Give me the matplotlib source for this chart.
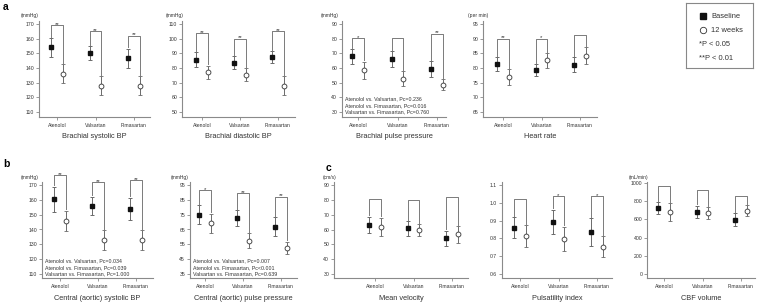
import matplotlib
matplotlib.use('Agg')
import matplotlib.pyplot as plt
import numpy as np

plt.rcParams['font.family'] = ['Liberation Sans', 'DejaVu Sans']

W, H = 760, 306

drugs = ['Atenolol', 'Valsartan', 'Fimasartan']

# a: brachial systolic BP (mmHg)
bsbp_base = [154.0, 150.2, 146.7]
bsbp_base_err = [6.5, 4.8, 6.5]
bsbp_wk12 = [136.0, 128.0, 128.0]
bsbp_wk12_err = [6.5, 6.5, 6.5]
bsbp_stars = ['**', '**', '**']
bsbp_top = [169.0, 165.2, 162.0]

# a: brachial diastolic BP (mmHg)
bdbp_base = [85.6, 83.5, 87.4]
bdbp_base_err = [5.0, 4.4, 4.0]
bdbp_wk12 = [77.1, 75.5, 68.0]
bdbp_wk12_err = [4.5, 4.2, 6.3]
bdbp_stars = ['**', '**', '**']
bdbp_top = [103.8, 100.0, 105.0]

# a: brachial pulse pressure (mmHg)
bpp_base = [67.9, 66.0, 59.4]
bpp_base_err = [5.0, 5.3, 5.3]
bpp_wk12 = [58.5, 52.6, 48.7]
bpp_wk12_err = [5.8, 5.2, 3.9]
bpp_stars = ['*', '', '**']
bpp_top = [80.4, 80.4, 83.4]
bpp_notes = ['Atenolol vs. Valsartan, Pc=0.236',
             'Atenolol vs. Fimasartan, Pc=0.016',
             'Valsartan vs. Fimasartan, Pc=0.760']

# a: heart rate (per min)
hr_base = [81.4, 79.3, 81.1]
hr_base_err = [2.3, 1.9, 2.5]
hr_wk12 = [76.9, 82.6, 84.2]
hr_wk12_err = [2.6, 2.5, 3.0]
hr_stars = ['**', '*', '']
hr_top = [90.0, 90.0, 91.3]

# b: central (aortic) systolic BP (mmHg)
csbp_base = [160.3, 155.8, 153.8]
csbp_base_err = [8.6, 6.3, 7.6]
csbp_wk12 = [145.7, 132.8, 132.8]
csbp_wk12_err = [7.0, 6.7, 6.7]
csbp_stars = ['**', '**', '**']
csbp_top = [176.7, 171.8, 173.4]
csbp_notes = ['Atenolol vs. Valsartan, Pc=0.034',
              'Atenolol vs. Fimasartan, Pc=0.039',
              'Valsartan vs. Fimasartan, Pc=1.000']

# b: central (aortic) pulse pressure (mmHg)
cpp_base = [74.8, 72.5, 66.7]
cpp_base_err = [6.4, 5.4, 6.4]
cpp_wk12 = [69.2, 57.5, 52.8]
cpp_wk12_err = [6.4, 5.0, 4.0]
cpp_stars = ['*', '**', '**']
cpp_top = [91.6, 89.4, 87.1]
cpp_notes = ['Atenolol vs. Valsartan, Pc=0.007',
             'Atenolol vs. Fimasartan, Pc<0.001',
             'Valsartan vs. Fimasartan, Pc=0.639']

# c: mean velocity (cm/s)
mv_base = [63.0, 60.8, 54.0]
mv_base_err = [5.6, 4.9, 5.3]
mv_wk12 = [61.9, 59.7, 56.7]
mv_wk12_err = [6.0, 3.9, 5.6]
mv_stars = ['', '', '']
mv_top = [80.3, 79.9, 82.0]

# c: pulsatility index
pi_base = [0.860, 0.894, 0.836]
pi_base_err = [0.060, 0.068, 0.076]
pi_wk12 = [0.813, 0.797, 0.754]
pi_wk12_err = [0.062, 0.069, 0.058]
pi_stars = ['', '*', '*']
pi_top = [1.020, 1.038, 1.038]

# c: CBF volume (mL/min)
cbf_base = [722, 685, 596]
cbf_base_err = [65, 67, 74]
cbf_wk12 = [678, 670, 696]
cbf_wk12_err = [100, 67, 60]
cbf_stars = ['', '', '']
cbf_top = [963, 926, 859]

GRAY = '#8a8a8a'
TXT = '#333333'

fig = plt.figure(figsize=(W / 100, H / 100), dpi=100)


def fx(x):
    return x / W


def fy(y):
    return 1 - y / H


def draw_panel(rect, yt, tick_px, xt, base, base_err, wk, wk_err, stars, tops,
               title, unit=None, unit_x=None, notes=None, fmt='{:.0f}'):
    L, T, R, B = rect
    ax = fig.add_axes([fx(L), fy(B), (R - L) / W, (B - T) / H])
    lo, hi = yt[0], yt[-1]
    p_hi, p_lo = tick_px
    sc = (p_lo - p_hi) / (hi - lo)  # pixels per data unit
    ax.set_ylim(lo - (B - p_lo) / sc, hi + (p_hi - T) / sc)
    a, c = xt
    s = (c - a) / 2
    ax.set_xlim(-(a - L) / s, 2 + (R - c) / s)

    for sp in ['top', 'right']:
        ax.spines[sp].set_visible(False)
    for sp in ['left', 'bottom']:
        ax.spines[sp].set_color(GRAY)
        ax.spines[sp].set_linewidth(0.8)
    ax.set_yticks(yt)
    ax.set_yticklabels([fmt.format(v) for v in yt])
    ax.set_xticks(range(3))
    ax.set_xticklabels(drugs)
    ax.tick_params(length=2, width=0.6, color=GRAY, labelsize=3.7,
                   labelcolor=TXT, pad=1.5)
    ax.tick_params(axis='x', pad=2.5)

    x = np.arange(3)
    d = 0.15
    ax.errorbar(x - d, base, yerr=base_err, fmt='s', ms=3.1, mfc='#111111',
                mec='#111111', ecolor='#6a6a6a', elinewidth=0.7, capsize=1.6,
                capthick=0.7, clip_on=False, zorder=3)
    ax.errorbar(x + d, wk, yerr=wk_err, fmt='o', ms=3.5, mfc='white',
                mec='#333333', mew=0.6, ecolor='#6a6a6a', elinewidth=0.7,
                capsize=1.6, capthick=0.7, clip_on=False, zorder=3)

    # significance brackets
    gap = 1.3 / sc
    for i in range(3):
        y0 = base[i] + base_err[i] + gap
        y1 = wk[i] + wk_err[i] + gap
        ax.plot([i - d, i - d, i + d, i + d], [y0, tops[i], tops[i], y1],
                color='#7a7a7a', lw=0.7, clip_on=False)
        if stars[i]:
            ax.text(i, tops[i] - 0.6 / sc, stars[i], ha='center',
                    va='baseline', fontsize=4.3, color=TXT)

    if notes:
        ys = [p_lo - 13, p_lo - 6.5, p_lo]
        for k, t in enumerate(notes):
            fig.text(fx(L + 3), fy(ys[k]), t, fontsize=3.8, color=TXT,
                     ha='left', va='center')

    fig.text(fx((L + R) / 2), fy(B + 20), title, fontsize=5.3, color=TXT,
             ha='center', va='center')
    if unit:
        fig.text(fx(unit_x), fy(T - 5), unit, fontsize=3.6, color=TXT,
                 ha='center', va='center')
    return ax


row_a = (24, 112)
row_b = (185, 274)

draw_panel((39, 21, 150, 117), np.arange(110, 171, 10), row_a, (57, 134),
           bsbp_base, bsbp_base_err, bsbp_wk12, bsbp_wk12_err, bsbp_stars,
           bsbp_top, 'Brachial systolic BP', '(mmHg)', 30)
draw_panel((182, 21, 295, 117), np.arange(50, 111, 10), row_a, (202, 278),
           bdbp_base, bdbp_base_err, bdbp_wk12, bdbp_wk12_err, bdbp_stars,
           bdbp_top, 'Brachial diastolic BP', '(mmHg)', 175)
draw_panel((342, 21, 446, 117), np.arange(30, 91, 10), row_a, (358, 437),
           bpp_base, bpp_base_err, bpp_wk12, bpp_wk12_err, bpp_stars,
           bpp_top, 'Brachial pulse pressure', '(mmHg)', 330, bpp_notes)
draw_panel((483, 21, 597, 117), np.arange(65, 96, 5), row_a, (503, 580),
           hr_base, hr_base_err, hr_wk12, hr_wk12_err, hr_stars,
           hr_top, 'Heart rate', '(per min)', 478)

draw_panel((42, 182, 153, 278), np.arange(110, 171, 10), row_b, (60, 136),
           csbp_base, csbp_base_err, csbp_wk12, csbp_wk12_err, csbp_stars,
           csbp_top, 'Central (aortic) systolic BP', '(mmHg)', 30, csbp_notes)
draw_panel((190, 182, 297, 278), np.arange(35, 96, 10), row_b, (205, 281),
           cpp_base, cpp_base_err, cpp_wk12, cpp_wk12_err, cpp_stars,
           cpp_top, 'Central (aortic) pulse pressure', '(mmHg)', 180, cpp_notes)
draw_panel((334, 182, 468, 278), np.arange(30, 91, 10), row_b, (375, 452),
           mv_base, mv_base_err, mv_wk12, mv_wk12_err, mv_stars,
           mv_top, 'Mean velocity', '(cm/s)', 330)
draw_panel((502, 182, 612, 278), np.round(np.arange(0.6, 1.11, 0.1), 1), row_b,
           (520, 597), pi_base, pi_base_err, pi_wk12, pi_wk12_err, pi_stars,
           pi_top, 'Pulsatility index', fmt='{:.1f}')
draw_panel((647, 182, 755, 278), np.arange(0, 1001, 200), (183, 274), (664, 741),
           cbf_base, cbf_base_err, cbf_wk12, cbf_wk12_err, cbf_stars,
           cbf_top, 'CBF volume', '(mL/min)', 639)

# panel letters
fig.text(fx(6), fy(7), 'a', fontsize=7.5, fontweight='bold', ha='center', va='center')
fig.text(fx(6), fy(164), 'b', fontsize=7.5, fontweight='bold', ha='center', va='center')
fig.text(fx(328), fy(168), 'c', fontsize=7.5, fontweight='bold', ha='center', va='center')

# legend box
lg = fig.add_axes([fx(686), fy(68), (753 - 686) / W, (68 - 3) / H])
lg.set_xlim(686, 753)
lg.set_ylim(68, 3)
lg.set_xticks([])
lg.set_yticks([])
for sp in lg.spines.values():
    sp.set_color('#888888')
    sp.set_linewidth(0.8)
lg.plot([703], [16], 's', ms=4.2, color='#111111')
lg.plot([703], [30], 'o', ms=4.6, mfc='white', mec='#333333', mew=0.6)
lg.text(711, 16, 'Baseline', fontsize=5.4, color=TXT, va='center')
lg.text(711, 30, '12 weeks', fontsize=5.4, color=TXT, va='center')
lg.text(699, 44, '*P < 0.05', fontsize=5.4, color=TXT, va='center')
lg.text(699, 58, '**P < 0.01', fontsize=5.4, color=TXT, va='center')

fig.savefig('out.png', dpi=100)
